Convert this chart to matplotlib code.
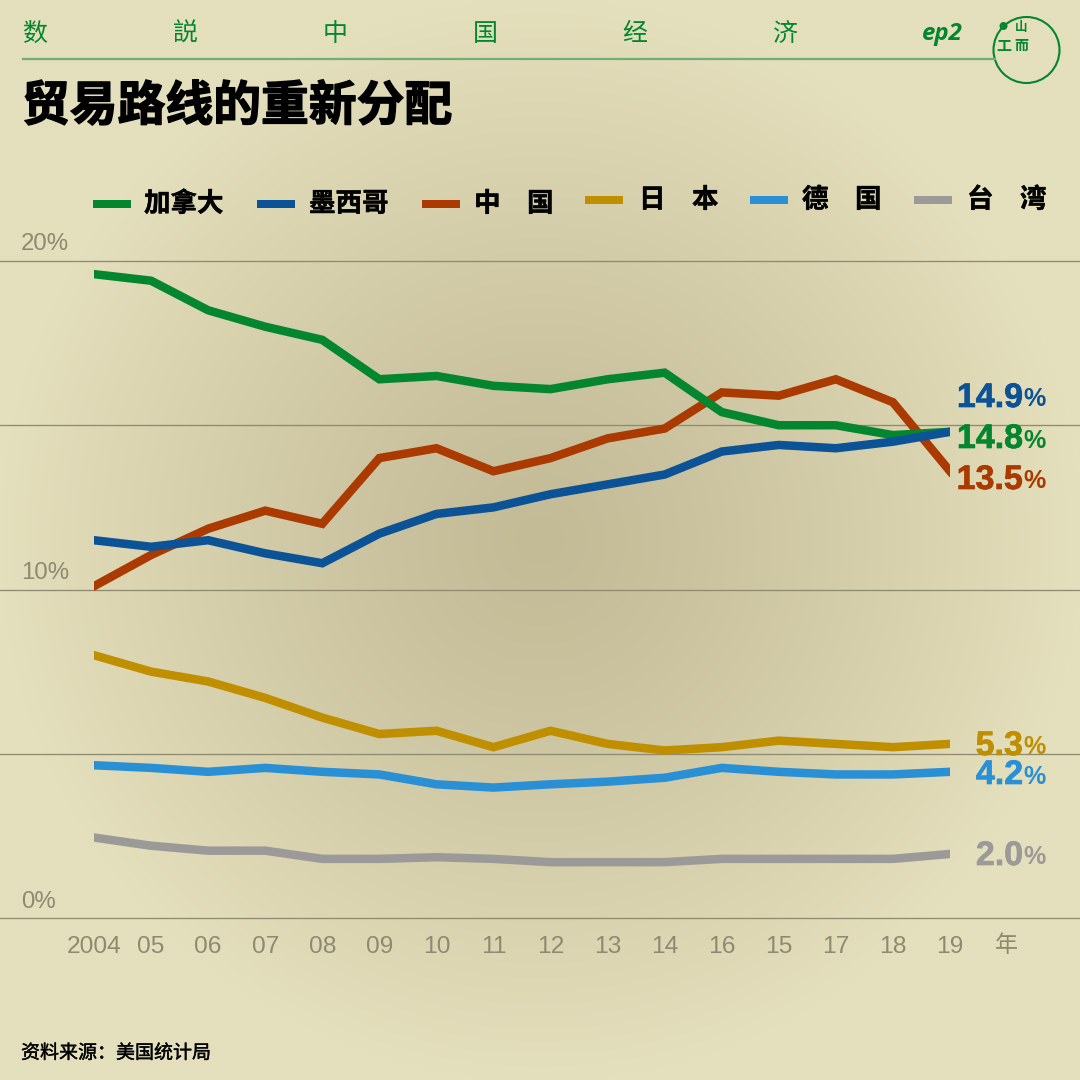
import numpy as np
import matplotlib
matplotlib.use("Agg")
import matplotlib.pyplot as plt
import matplotlib.patheffects as pe
from matplotlib.lines import Line2D
from matplotlib.patches import Circle

years = ["2004", "05", "06", "07", "08", "09", "10", "11", "12", "13", "14", "16", "15", "17", "18", "19"]
canada = [19.6, 19.4, 18.5, 18.0, 17.6, 16.4, 16.5, 16.2, 16.1, 16.4, 16.6, 15.4, 15.0, 15.0, 14.7, 14.8]
mexico = [11.5, 11.3, 11.5, 11.1, 10.8, 11.7, 12.3, 12.5, 12.9, 13.2, 13.5, 14.2, 14.4, 14.3, 14.5, 14.8]
china = [10.1, 11.05, 11.85, 12.4, 12.0, 14.0, 14.3, 13.6, 14.0, 14.6, 14.9, 16.0, 15.9, 16.4, 15.7, 13.6]
japan = [8.0, 7.5, 7.2, 6.7, 6.1, 5.6, 5.7, 5.2, 5.7, 5.3, 5.1, 5.2, 5.4, 5.3, 5.2, 5.3]
germany = [4.65, 4.57, 4.45, 4.57, 4.45, 4.37, 4.07, 3.97, 4.07, 4.15, 4.27, 4.57, 4.45, 4.37, 4.37, 4.45]
taiwan = [2.45, 2.2, 2.05, 2.05, 1.8, 1.8, 1.85, 1.8, 1.7, 1.7, 1.7, 1.8, 1.8, 1.8, 1.8, 1.95]
names = ["加拿大", "墨西哥", "中　国", "日　本", "德　国", "台　湾"]
end_labels = ["14.8", "14.9", "13.5", "5.3", "4.2", "2.0"]
y_ticks = [0, 5, 10, 15, 20]
y_labels = {0: "0%", 10: "10%", 20: "20%"}

C_GREEN, C_BLUE, C_RED, C_GOLD, C_SKY, C_GREY = "#04862f", "#0b5297", "#aa3a00", "#bf8f00", "#2a90d5", "#9b9a98"
colors = [C_GREEN, C_BLUE, C_RED, C_GOLD, C_SKY, C_GREY]
series = [canada, mexico, china, japan, germany, taiwan]
draw_order = [5, 6, 4, 2, 3, 1]

CJK = ["Noto Sans CJK SC", "DejaVu Sans"]
LAT = "Liberation Sans"
TICK = "#8e8a72"
W = 1080
fig = plt.figure(figsize=(10.8, 10.8), dpi=100)

def X(p): return p / W
def Y(p): return 1 - p / W
def pt(px): return px * 0.72
def T(x, y, s, size, color="black", ha="left", va="center", family=CJK, weight="normal", stroke=0, **kw):
    t = fig.text(X(x), Y(y), s, fontsize=pt(size), color=color, ha=ha, va=va, family=family, weight=weight, **kw)
    if stroke:
        t.set_path_effects([pe.withStroke(linewidth=stroke, foreground=color)])
    return t

# background
bg = fig.add_axes([0, 0, 1, 1], zorder=0)
bg.axis("off")
yy, xx = np.mgrid[0:1:540j, 0:1:540j]
r = np.clip(np.sqrt((xx - .5) ** 2 + (yy - .5) ** 2) / 0.50, 0, 1)
c0, c1 = np.array([0xC3, 0xBA, 0x96]) / 255, np.array([0xE4, 0xDF, 0xBC]) / 255
t = r[..., None] ** 1.15
bg.imshow(c0 * (1 - t) + c1 * t, extent=(0, 1, 0, 1), aspect="auto", interpolation="bilinear")

# plot axes
ax = fig.add_axes([X(94), Y(918), (950 - 94) / W, (918 - 261) / W], zorder=1)
ax.patch.set_alpha(0)
ax.set_xlim(0, 15)
ax.set_ylim(0, 20)
for s in ax.spines.values():
    s.set_visible(False)
for v in y_ticks:
    ax.axhline(v, xmin=-94 / 856, xmax=986 / 856, color="#8f8b73", lw=0.95, clip_on=False, zorder=1)
x = np.arange(len(years))
for vals, col, z in zip(series, colors, draw_order):
    ax.plot(x, vals, color=col, lw=pt(8.5), solid_capstyle="projecting", solid_joinstyle="miter", zorder=2 + z, clip_on=True)
ax.set_yticks([])
ax.set_xticks(x, years, fontsize=pt(24.5), color=TICK, family=LAT)
ax.tick_params(axis="x", length=0, pad=pt(18))
for lab in ax.get_xticklabels():
    lab.set_ha("center")

for v, s in y_labels.items():
    T(21, 918 - v * 32.85 - 16.5, s, 24, color=TICK, family=LAT)
T(1006, 945, "年", 23, color=TICK, ha="center")

# end labels
end_y = [436, 395, 477, 743, 772, 853]
for lab, col, yp in zip(end_labels, colors, end_y):
    T(1023, yp, lab, 34, color=col, ha="right", va="center_baseline", family=LAT, weight="bold", stroke=0.5)
    T(1046, yp + 2, "%", 25, color=col, ha="right", va="center_baseline", family=LAT, weight="bold")

# header
for s, xc in zip("数説中国经济", [35, 185, 335, 485, 635, 785]):
    T(xc, 34, s, 25, color=C_GREEN, ha="center", weight="light")
T(942, 34, "ep2", 24, color=C_GREEN, ha="center", family="Open Sans", weight="bold", style="italic")
fig.add_artist(Line2D([X(23), X(995)], [Y(59), Y(59)], color="#6fae77", lw=1.6))
T(22, 106, "贸易路线的重新分配", 47.8, weight="black", stroke=1.0)

# logo
fig.add_artist(Circle((X(1026.5), Y(50)), 33 / W, fill=False, ec=C_GREEN, lw=1.5, transform=fig.transFigure))
fig.add_artist(Circle((X(1003.5), Y(26)), 4 / W, fc=C_GREEN, ec="none", transform=fig.transFigure))
T(1021, 28, "山", 12.5, color=C_GREEN, ha="center", weight="bold")
T(1004, 46, "工", 15, color=C_GREEN, ha="center", weight="bold")
T(1021, 46, "而", 14, color=C_GREEN, ha="center", weight="bold")

# legend
leg_x = [93, 257, 422, 585, 750, 914]
leg_y = [204, 204, 204, 200, 200, 200]
txt_x = [144, 309, 474, 639, 802, 967]
for lx, ly, tx, n, col in zip(leg_x, leg_y, txt_x, names, colors):
    fig.add_artist(Line2D([X(lx), X(lx + 38)], [Y(ly), Y(ly)], color=col, lw=pt(8), solid_capstyle="butt"))
    T(tx, ly, n, 26.5, weight="black", stroke=0.3)

T(21, 1053, "资料来源：美国统计局", 19, weight="medium", stroke=0.25)
fig.savefig("out.png", dpi=100)
